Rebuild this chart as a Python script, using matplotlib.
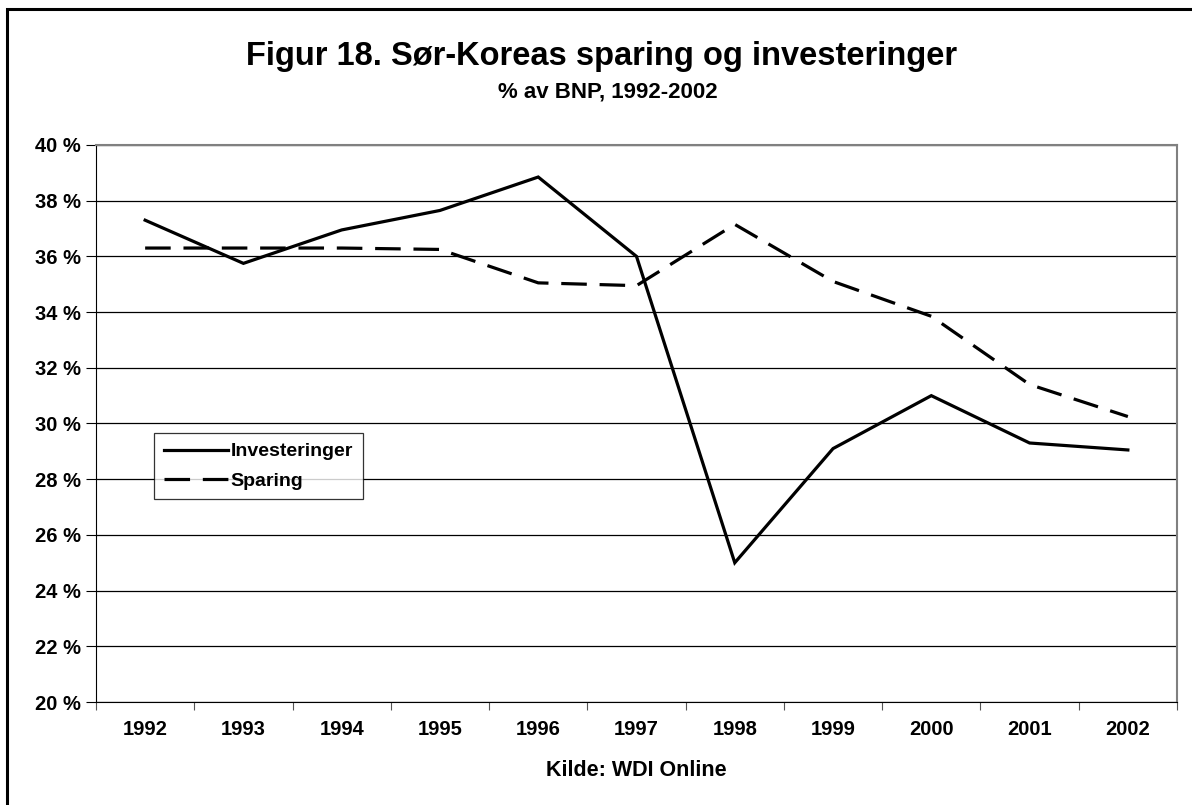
import numpy as np
import matplotlib
matplotlib.use("Agg")
import matplotlib.pyplot as plt
from matplotlib.patches import Rectangle

plt.rcParams['font.family'] = ['Liberation Sans', 'DejaVu Sans']

years = ['1992', '1993', '1994', '1995', '1996', '1997', '1998', '1999', '2000', '2001', '2002']
investeringer = [37.3, 35.75, 36.95, 37.65, 38.85, 36.0, 25.0, 29.1, 31.0, 29.3, 29.05]
sparing = [36.3, 36.3, 36.3, 36.25, 35.05, 34.95, 37.15, 35.1, 33.85, 31.4, 30.25]
yticks = [20, 22, 24, 26, 28, 30, 32, 34, 36, 38, 40]

fig = plt.figure(figsize=(11.92, 8.05), dpi=100)
ax = fig.add_axes([96/1192, 1-702/805, (1177-96)/1192, (702-145)/805])

x = np.arange(len(years))
ax.plot(x, investeringer, color='black', linewidth=2.3, label='Investeringer',
        solid_joinstyle='miter')
ax.plot(x, sparing, color='black', linewidth=2.3, linestyle=(0, (8, 4)), label='Sparing')

ax.set_ylim(20, 40)
ax.set_yticks(yticks)
ax.set_yticklabels(['%d %%' % v for v in yticks], fontsize=14.5, fontweight='bold')
ax.yaxis.grid(True, color='black', linewidth=0.9)
ax.set_axisbelow(True)

ax.set_xlim(-0.5, len(years) - 0.5)
ax.set_xticks(np.arange(-0.5, len(years), 1.0))
ax.set_xticklabels([])
ax.set_xticks(x, minor=True)
ax.set_xticklabels(years, minor=True, fontsize=14.5, fontweight='bold')
ax.tick_params(axis='x', which='major', direction='out', length=6, color='#555555')
ax.tick_params(axis='x', which='minor', length=0, pad=13)
ax.tick_params(axis='y', direction='out', length=7, pad=4)

for s in ['top', 'right']:
    ax.spines[s].set_color('#808080')
    ax.spines[s].set_linewidth(1.5)
ax.spines['left'].set_color('black')
ax.spines['bottom'].set_color('black')

leg = ax.legend(loc='upper left', bbox_to_anchor=((154-96)/(1177-96), 1-(433-145)/(702-145)),
                prop={'weight': 'bold', 'size': 14}, frameon=True, fancybox=False,
                handlelength=3.3, handletextpad=0.15, borderpad=0.5, labelspacing=0.6,
                borderaxespad=0)
leg.get_frame().set_edgecolor('black')
leg.get_frame().set_linewidth(0.9)

fig.text(0.505, 1-57/805, 'Figur 18. Sør-Koreas sparing og investeringer', ha='center', va='center',
         fontsize=23.5, fontweight='bold')
fig.text(0.51, 1-92/805, '% av BNP, 1992-2002', ha='center', va='center',
         fontsize=16, fontweight='bold')
fig.text(636/1192, 1-770/805, 'Kilde: WDI Online', ha='center', va='center',
         fontsize=15.5, fontweight='bold')

# outer chart frame
fig.patches.append(Rectangle((7/1192, -0.05), 1.2, 1-9/805+0.05, transform=fig.transFigure,
                             fill=False, edgecolor='black', linewidth=2.2))

fig.savefig('out.png', dpi=100)
